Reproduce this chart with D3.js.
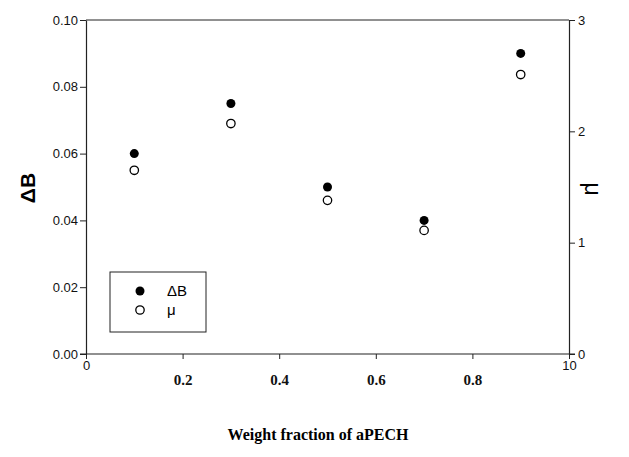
<!DOCTYPE html>
<html>
<head>
<meta charset="utf-8">
<script src="https://cdn.jsdelivr.net/npm/d3@7"></script>
<style>
  body { margin: 0; background: #fff; }
</style>
</head>
<body>
<div id="chart"></div>
<script>
// data
var fractions = [0.1, 0.3, 0.5, 0.7, 0.9];
var deltaB = [0.060, 0.075, 0.050, 0.040, 0.090];
var mu = [1.65, 2.07, 1.38, 1.11, 2.51];
var xTicks = [0, 0.2, 0.4, 0.6, 0.8, 1.0];
var xTickLabels = ["0", "0.2", "0.4", "0.6", "0.8", "10"];
var yLeftTicks = [0, 0.02, 0.04, 0.06, 0.08, 0.10];
var yRightTicks = [0, 1, 2, 3];

function init() {
    chart();
}

function chart() {
    var w = 629;
    var h = 457;
    var left = 86, right = 569, top = 20, bottom = 354;

    var svg = d3.select("#chart")
        .append("svg")
        .attr("width", w)
        .attr("height", h);

    var x = d3.scaleLinear().domain([0, 1]).range([left, right]);
    var yL = d3.scaleLinear().domain([0, 0.1]).range([bottom, top]);
    var yR = d3.scaleLinear().domain([0, 3]).range([bottom, top]);

    // top frame line
    svg.append("line")
        .attr("x1", left).attr("x2", right)
        .attr("y1", top).attr("y2", top)
        .attr("stroke", "#222").attr("stroke-width", 1);

    // left axis
    var gL = svg.append("g")
        .attr("transform", "translate(" + left + ",0)")
        .call(d3.axisLeft(yL).tickValues(yLeftTicks).tickSize(6).tickSizeOuter(0)
            .tickFormat(d3.format(".2f")));

    // right axis
    var gR = svg.append("g")
        .attr("transform", "translate(" + right + ",0)")
        .call(d3.axisRight(yR).tickValues(yRightTicks).tickSize(6).tickSizeOuter(0)
            .tickFormat(d3.format("d")));

    // bottom axis
    var gB = svg.append("g")
        .attr("transform", "translate(0," + bottom + ")")
        .call(d3.axisBottom(x).tickValues(xTicks).tickSize(5).tickSizeOuter(0)
            .tickFormat(function (d, i) { return xTickLabels[i]; }));

    [gL, gR, gB].forEach(function (g) {
        g.select(".domain").attr("stroke", "#222").attr("stroke-width", 1.2);
        g.selectAll(".tick line").attr("stroke", "#222");
        g.selectAll("text")
            .attr("fill", "#111")
            .style("font-family", "Liberation Sans, Arial, sans-serif")
            .style("font-size", "13px");
    });
    gB.select(".domain").attr("d", "M" + (left - 6) + ",0H" + (right + 6));

    gL.selectAll(".tick text").attr("x", -8);
    gR.selectAll(".tick text").attr("x", 9);

    // bottom labels: ends in sans, middle ones in serif bold lower
    gB.selectAll(".tick text")
        .each(function (d, i) {
            var t = d3.select(this);
            if (i === 0 || i === xTicks.length - 1) {
                t.attr("y", 7).attr("dy", "0.71em");
            } else {
                t.attr("y", 20).attr("dy", "0.71em")
                    .style("font-family", "Liberation Serif, Times New Roman, serif")
                    .style("font-weight", "bold")
                    .style("font-size", "15px");
            }
        });

    // points
    svg.selectAll("circle.db")
        .data(fractions)
        .enter()
        .append("circle")
        .attr("class", "db")
        .attr("cx", function (d) { return x(d); })
        .attr("cy", function (d, i) { return yL(deltaB[i]); })
        .attr("r", 4.5)
        .attr("fill", "#000");

    svg.selectAll("circle.mu")
        .data(fractions)
        .enter()
        .append("circle")
        .attr("class", "mu")
        .attr("cx", function (d) { return x(d); })
        .attr("cy", function (d, i) { return yR(mu[i]); })
        .attr("r", 4.2)
        .attr("fill", "#fff")
        .attr("stroke", "#000")
        .attr("stroke-width", 1.3);

    // axis titles
    svg.append("text")
        .attr("transform", "translate(35,188) rotate(-90)")
        .attr("text-anchor", "middle")
        .style("font-family", "Liberation Sans, Arial, sans-serif")
        .style("font-weight", "bold")
        .style("font-size", "21px")
        .text("ΔB");

    svg.append("text")
        .attr("transform", "translate(585,189) rotate(90)")
        .attr("text-anchor", "middle")
        .style("font-family", "Liberation Sans, Arial, sans-serif")
        .style("font-size", "23px")
        .text("μ");

    svg.append("text")
        .attr("x", 318)
        .attr("y", 440)
        .attr("text-anchor", "middle")
        .style("font-family", "Liberation Serif, Times New Roman, serif")
        .style("font-weight", "bold")
        .style("font-size", "16px")
        .text("Weight fraction of aPECH");

    // legend
    var lg = svg.append("g");
    lg.append("rect")
        .attr("x", 110).attr("y", 272)
        .attr("width", 96).attr("height", 60)
        .attr("fill", "#fff").attr("stroke", "#222").attr("stroke-width", 1);
    lg.append("circle").attr("cx", 140).attr("cy", 291).attr("r", 4.5).attr("fill", "#000");
    lg.append("circle").attr("cx", 140).attr("cy", 310).attr("r", 4.2)
        .attr("fill", "#fff").attr("stroke", "#000").attr("stroke-width", 1.3);
    lg.append("text").attr("x", 167).attr("y", 296)
        .style("font-family", "Liberation Sans, Arial, sans-serif")
        .style("font-size", "15px").text("ΔB");
    lg.append("text").attr("x", 167).attr("y", 315)
        .style("font-family", "Liberation Sans, Arial, sans-serif")
        .style("font-size", "15px").text("μ");
}

window.onload = init;
</script>
</body>
</html>
